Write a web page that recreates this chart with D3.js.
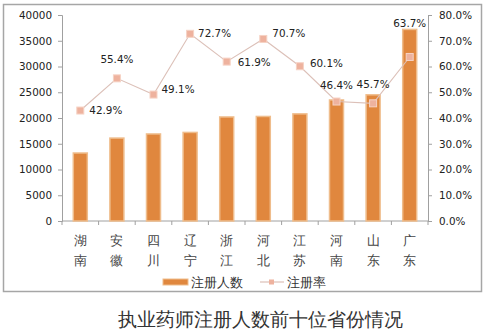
<!DOCTYPE html>
<html>
<head>
<meta charset="utf-8">
<script src="https://cdn.jsdelivr.net/npm/d3@7/dist/d3.min.js"></script>
<style>
  html, body { margin: 0; padding: 0; background: #fff; }
  svg { display: block; }
  text { font-family: "DejaVu Sans", sans-serif; }
</style>
</head>
<body>
<svg id="chart" width="486" height="331"></svg>
<script>
// Provinces, registered pharmacists, registration rate (%)
const provinces = ["湖南", "安徽", "四川", "辽宁", "浙江", "河北", "江苏", "河南", "山东", "广东"];
const registered = [13200, 16100, 16900, 17200, 20200, 20300, 20800, 23500, 24500, 37200];
const rate = [42.9, 55.4, 49.1, 72.7, 61.9, 70.7, 60.1, 46.4, 45.7, 63.7];
const leftTicks = [0, 5000, 10000, 15000, 20000, 25000, 30000, 35000, 40000];
const rightTicks = [0, 10, 20, 30, 40, 50, 60, 70, 80];
// label placement per point: dx, dy, anchor
const labelPos = [
  [9, 0, "start"], [0, -19, "middle"], [8, -5, "start"], [8, 0, "start"], [11, 1, "start"],
  [9, -6, "start"], [10, -3, "start"], [0, -16, "middle"], [0, -19, "middle"], [0, -34, "middle"]
];

const svg = d3.select("#chart");
const plot = { left: 62, right: 428, top: 15, bottom: 221 };

// outer frame
svg.append("rect").attr("x", 3.5).attr("y", 4.5).attr("width", 478).attr("height", 287)
  .attr("fill", "none").attr("stroke", "#a6a6a6").attr("stroke-width", 1.5);

const x = d3.scaleBand().domain(provinces).range([plot.left, plot.right]).paddingInner(0).paddingOuter(0);
const yL = d3.scaleLinear().domain([0, 40000]).range([plot.bottom, plot.top]);
const yR = d3.scaleLinear().domain([0, 80]).range([plot.bottom, plot.top]);

const axisColor = "#a0a0a0";
const textColor = "#222";

// left axis
const gL = svg.append("g").attr("transform", `translate(${plot.left},0)`)
  .call(d3.axisLeft(yL).tickValues(leftTicks).tickSize(4).tickPadding(6).tickFormat(d3.format("d")));
// right axis
const gR = svg.append("g").attr("transform", `translate(${plot.right},0)`)
  .call(d3.axisRight(yR).tickValues(rightTicks).tickSize(4).tickPadding(7).tickFormat(d => d.toFixed(1) + "%"));
[gL, gR].forEach(g => {
  g.select(".domain").attr("stroke", axisColor);
  g.selectAll(".tick line").attr("stroke", axisColor);
  g.selectAll(".tick text").attr("fill", textColor).attr("font-size", 10.4)
    .attr("font-family", "DejaVu Sans, sans-serif");
});

// bottom axis with ticks on category boundaries
svg.append("line").attr("x1", plot.left).attr("x2", plot.right)
  .attr("y1", plot.bottom).attr("y2", plot.bottom).attr("stroke", axisColor);
const bounds = provinces.map(p => x(p)).concat([plot.right]);
svg.append("g").selectAll("line").data(bounds).join("line")
  .attr("x1", d => d).attr("x2", d => d)
  .attr("y1", plot.bottom).attr("y2", plot.bottom + 4).attr("stroke", axisColor);

// vertical category labels
const cat = svg.append("g");
provinces.forEach(p => {
  const cx = x(p) + x.bandwidth() / 2;
  [...p].forEach((ch, i) => {
    cat.append("text").attr("x", cx).attr("y", 245 + i * 20)
      .attr("text-anchor", "middle").attr("font-size", 13)
      .attr("font-family", "Noto Sans CJK SC, sans-serif").attr("fill", "#444").text(ch);
  });
});

// bars
const barW = 14;
svg.append("g").selectAll("rect").data(provinces).join("rect")
  .attr("x", (d) => x(d) + x.bandwidth() / 2 - barW / 2)
  .attr("width", barW)
  .attr("y", (d, i) => yL(registered[i]))
  .attr("height", (d, i) => plot.bottom - yL(registered[i]))
  .attr("fill", "#e0873e").attr("stroke", "#efbd8c").attr("stroke-width", 1.5);

// rate line
const pts = provinces.map((p, i) => [x(p) + x.bandwidth() / 2, yR(rate[i])]);
svg.append("path").attr("d", d3.line()(pts)).attr("fill", "none")
  .attr("stroke", "#dcc0b8").attr("stroke-width", 1.1);
svg.append("g").selectAll("rect").data(pts).join("rect")
  .attr("x", d => d[0] - 3.5).attr("y", d => d[1] - 3.5)
  .attr("width", 7).attr("height", 7)
  .attr("fill", "#eeb29e").attr("stroke", "#f6d2c4").attr("stroke-width", 1);

// value labels
svg.append("g").selectAll("text").data(pts).join("text")
  .attr("x", (d, i) => d[0] + labelPos[i][0])
  .attr("y", (d, i) => d[1] + labelPos[i][1])
  .attr("dy", "0.35em")
  .attr("text-anchor", (d, i) => labelPos[i][2])
  .attr("font-size", 10.4).attr("fill", textColor)
  .text((d, i) => rate[i].toFixed(1) + "%");

// legend
const lg = svg.append("g");
lg.append("rect").attr("x", 163).attr("y", 279).attr("width", 25).attr("height", 6)
  .attr("fill", "#e0873e").attr("stroke", "#efbd8c").attr("stroke-width", 1);
lg.append("text").attr("x", 191).attr("y", 282).attr("dy", "0.35em")
  .attr("font-size", 13).attr("font-family", "Noto Sans CJK SC, sans-serif").attr("fill", "#333").text("注册人数");
lg.append("line").attr("x1", 260).attr("x2", 284).attr("y1", 282).attr("y2", 282)
  .attr("stroke", "#dcc0b8").attr("stroke-width", 1.2);
lg.append("rect").attr("x", 269).attr("y", 279.5).attr("width", 5).attr("height", 5)
  .attr("fill", "#eeb29e");
lg.append("text").attr("x", 287).attr("y", 282).attr("dy", "0.35em")
  .attr("font-size", 13).attr("font-family", "Noto Sans CJK SC, sans-serif").attr("fill", "#333").text("注册率");

// title
svg.append("text").attr("x", 260).attr("y", 320).attr("dy", "0.35em")
  .attr("text-anchor", "middle").attr("font-size", 18.5)
  .attr("font-family", "Noto Sans CJK SC, sans-serif").attr("fill", "#333")
  .text("执业药师注册人数前十位省份情况");
</script>
</body>
</html>
